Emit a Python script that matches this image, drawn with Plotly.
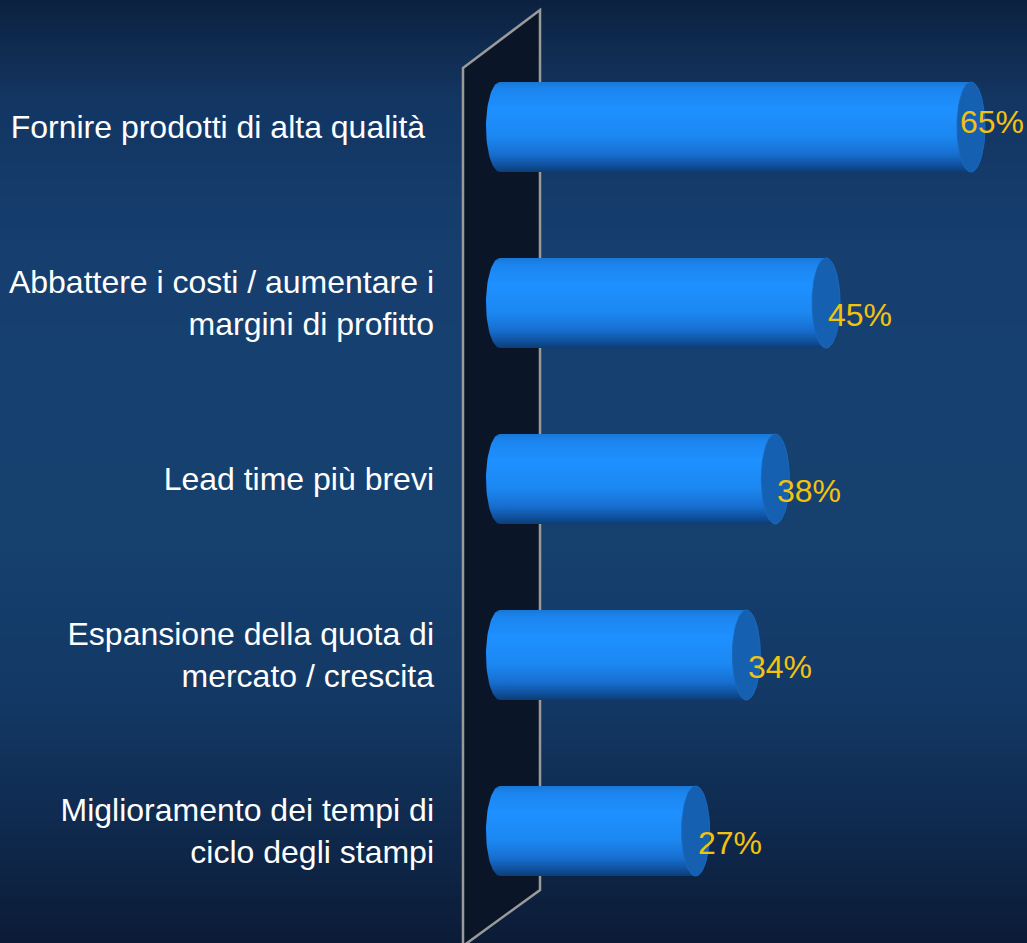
import numpy as np
import plotly.graph_objects as go

# Survey results: share of respondents naming each priority
categories = [
    "Fornire prodotti di alta qualità\u00a0",
    "Abbattere i costi / aumentare i<br>margini di profitto",
    "Lead time più brevi",
    "Espansione della quota di<br>mercato / crescita",
    "Miglioramento dei tempi di<br>ciclo degli stampi",
]
values = [65, 45, 38, 34, 27]
value_labels = ["65%", "45%", "38%", "34%", "27%"]

# ---- geometry / style constants (pixels -> axis units) ----
W, H = 1027, 943
M_LEFT = 440
PX_PER_PCT = 7.246          # horizontal scale
PX_PER_ROW = 176            # distance between bars
ZERO_PX = 500               # screen x of 0 %
FIRST_ROW_PX = 127          # screen y of first bar centre
half_h = 45 / PX_PER_ROW    # bar half thickness in row units
cap_a = 14 / PX_PER_PCT     # horizontal semi-axis of the elliptical ends

x_range = [(M_LEFT - ZERO_PX) / PX_PER_PCT, (W - ZERO_PX) / PX_PER_PCT]
y_top = -FIRST_ROW_PX / PX_PER_ROW
y_bot = (H - FIRST_ROW_PX) / PX_PER_ROW


def px_x(p):
    return (p - ZERO_PX) / PX_PER_PCT


def px_y(p):
    return (p - FIRST_ROW_PX) / PX_PER_ROW


fig = go.Figure()

# ---- background vertical gradient ----
stops = [(0, (12, 33, 63)), (100, (19, 54, 99)), (260, (22, 63, 111)),
         (520, (22, 65, 111)), (700, (19, 56, 101)), (850, (14, 39, 73)),
         (943, (11, 27, 54))]
sp = np.array([s[0] for s in stops], float)
sc = np.array([s[1] for s in stops], float)
shapes = []
step = 4
for y0 in range(0, H, step):
    yc = y0 + step / 2
    col = [int(round(np.interp(yc, sp, sc[:, k]))) for k in range(3)]
    shapes.append(dict(
        type="rect", xref="paper", yref="paper", layer="below",
        x0=-1, x1=1.1, y0=1 - (y0 + step + 0.5) / H, y1=1 - y0 / H,
        fillcolor=f"rgb({col[0]},{col[1]},{col[2]})", line=dict(width=0),
    ))

# ---- back wall (parallelogram) ----
wl, wr = px_x(463), px_x(540)
wall_path = (f"M {wl},{px_y(68)} L {wr},{px_y(10)} L {wr},{px_y(890)} "
             f"L {wl},{px_y(946)} Z")
shapes.append(dict(type="path", xref="x", yref="y", layer="below",
                   path=wall_path, fillcolor="#0a1627",
                   line=dict(color="#9a9a9a", width=2.5)))

body_scale = [
    [0.0, "#1a77d6"], [0.08, "#1c86f0"], [0.3, "#1e90ff"],
    [0.6, "#1c88f2"], [0.8, "#176fd0"], [0.92, "#10529e"], [1.0, "#0b3d78"],
]

ang = np.linspace(np.pi / 2, 3 * np.pi / 2, 40)   # bottom -> left -> top
t_full = np.linspace(0, 2 * np.pi, 80)

for i, v in enumerate(values):
    top, bot = i - half_h, i + half_h
    # cylinder body: right edge, bottom edge, rounded left end, top edge
    xs = [v, v] + list(cap_a * np.cos(ang)) + [v]
    ys = [top, bot] + list(i + half_h * np.sin(ang)) + [top]
    fig.add_trace(go.Scatter(
        x=xs, y=ys, mode="lines", fill="toself", line=dict(width=0),
        fillgradient=dict(type="vertical", colorscale=body_scale,
                          start=top, stop=bot),
        hoverinfo="skip", showlegend=False,
    ))
    # end cap ellipse
    fig.add_trace(go.Scatter(
        x=v + cap_a * np.cos(t_full), y=i + half_h * np.sin(t_full),
        mode="lines", fill="toself", fillcolor="#1660b2",
        line=dict(width=1, color="#1968bd"),
        hoverinfo="skip", showlegend=False,
    ))

# value labels
label_dx = [-13, 0, 0, 0, 0]
label_dy = [5, -12, -12, -12, -12]
for i, (v, t) in enumerate(zip(values, value_labels)):
    fig.add_annotation(
        x=v, y=i, text=t, showarrow=False, xanchor="left", yanchor="middle",
        xshift=label_dx[i], yshift=label_dy[i],
        font=dict(family="Liberation Sans, Arial", size=32, color="#f3c20f"),
    )

fig.update_layout(
    width=W, height=H,
    margin=dict(l=M_LEFT, r=0, t=0, b=0),
    paper_bgcolor="rgb(22,63,111)",
    plot_bgcolor="rgba(0,0,0,0)",
    shapes=shapes,
    showlegend=False,
    xaxis=dict(range=x_range, visible=False, fixedrange=True),
    yaxis=dict(
        range=[y_bot, y_top], tickvals=list(range(len(categories))),
        ticktext=categories, showgrid=False, zeroline=False, showline=False,
        ticks="", ticklabelstandoff=5,
        tickfont=dict(family="Liberation Sans, Arial", size=32, color="white"),
        fixedrange=True,
    ),
)

fig.write_html("out.html")
